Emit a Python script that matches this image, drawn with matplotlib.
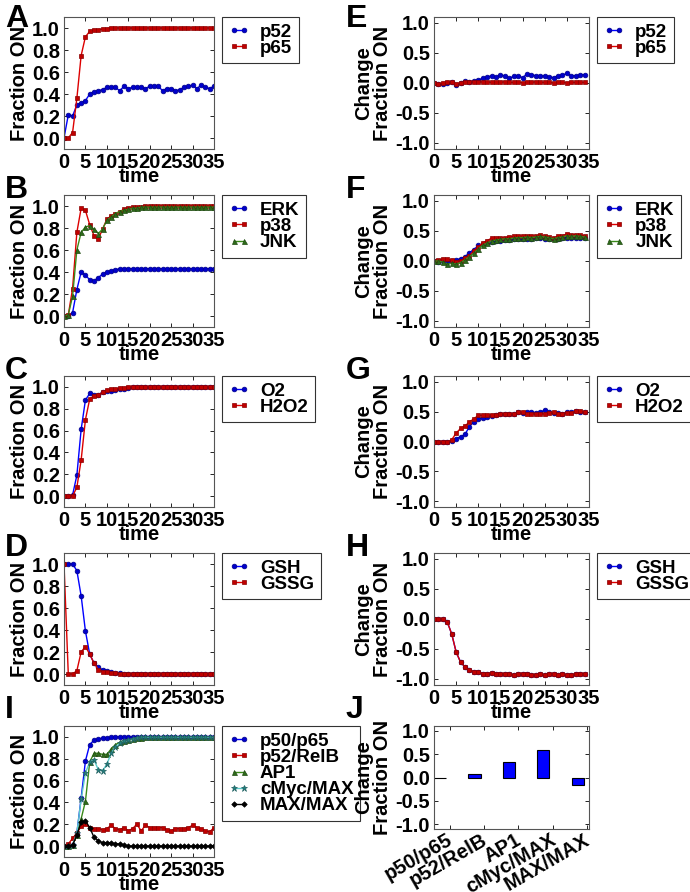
import matplotlib
matplotlib.use("Agg")
import matplotlib.pyplot as plt
import matplotlib.transforms as mtransforms
import numpy as np

plt.rcParams['font.family'] = ['Liberation Sans', 'DejaVu Sans']
plt.rcParams['font.weight'] = 'bold'
plt.rcParams['axes.unicode_minus'] = False

# ---------------- data ----------------
time_abs = list(range(36))
time_chg = list(range(35))

# Panel A
a_p52 = [0.0, 0.21, 0.20, 0.30, 0.32, 0.34, 0.40, 0.42, 0.43, 0.44, 0.46, 0.46, 0.46, 0.43, 0.47, 0.45,
         0.46, 0.46, 0.46, 0.45, 0.47, 0.47, 0.47, 0.43, 0.45, 0.45, 0.43, 0.44, 0.46, 0.47, 0.48, 0.45,
         0.48, 0.46, 0.45, 0.47]
a_p65 = [0.0, 0.0, 0.05, 0.36, 0.75, 0.92, 0.97, 0.98, 0.985, 0.99, 0.995, 1.0, 1.0, 1.0, 1.0, 1.0,
         1.0, 1.0, 1.0, 1.0, 1.0, 1.0, 1.0, 1.0, 1.0, 1.0, 1.0, 1.0, 1.0, 1.0, 1.0, 1.0, 1.0, 1.0, 1.0, 1.0]

# Panel B
b_erk = [0.0, 0.0, 0.03, 0.24, 0.40, 0.37, 0.33, 0.32, 0.35, 0.38, 0.40, 0.41, 0.42, 0.43, 0.43, 0.43,
         0.43, 0.43, 0.43, 0.43, 0.43, 0.43, 0.43, 0.43, 0.43, 0.43, 0.43, 0.43, 0.43, 0.43, 0.43, 0.43,
         0.43, 0.43, 0.43, 0.43]
b_p38 = [0.0, 0.01, 0.25, 0.76, 0.98, 0.96, 0.83, 0.73, 0.70, 0.79, 0.88, 0.91, 0.93, 0.95, 0.97, 0.98,
         0.99, 0.99, 0.995, 1.0, 1.0, 1.0, 1.0, 1.0, 1.0, 1.0, 1.0, 1.0, 1.0, 1.0, 1.0, 1.0, 1.0, 1.0, 1.0, 1.0]
b_jnk = [0.0, 0.01, 0.18, 0.60, 0.76, 0.81, 0.82, 0.79, 0.75, 0.79, 0.87, 0.90, 0.93, 0.95, 0.96, 0.97,
         0.98, 0.98, 0.99, 0.99, 0.99, 0.99, 0.99, 0.99, 0.99, 0.99, 0.99, 0.99, 0.99, 0.99, 0.99, 0.99,
         0.99, 0.99, 0.99, 0.99]

# Panel C
c_o2 = [0.0, 0.0, 0.01, 0.19, 0.61, 0.88, 0.94, 0.93, 0.93, 0.95, 0.96, 0.96, 0.97, 0.98, 0.98, 0.99,
        1.0, 1.0, 1.0, 1.0, 1.0, 1.0, 1.0, 1.0, 1.0, 1.0, 1.0, 1.0, 1.0, 1.0, 1.0, 1.0, 1.0, 1.0, 1.0, 1.0]
c_h2o2 = [0.0, 0.0, 0.0, 0.08, 0.33, 0.70, 0.89, 0.92, 0.93, 0.95, 0.97, 0.98, 0.98, 0.99, 0.99, 1.0,
          1.0, 1.0, 1.0, 1.0, 1.0, 1.0, 1.0, 1.0, 1.0, 1.0, 1.0, 1.0, 1.0, 1.0, 1.0, 1.0, 1.0, 1.0, 1.0, 1.0]

# Panel D
d_gsh = [1.0, 1.0, 1.0, 0.94, 0.71, 0.39, 0.18, 0.10, 0.06, 0.04, 0.03, 0.02, 0.01, 0.005, 0.0, 0.0,
         0.0, 0.0, 0.0, 0.0, 0.0, 0.0, 0.0, 0.0, 0.0, 0.0, 0.0, 0.0, 0.0, 0.0, 0.0, 0.0, 0.0, 0.0, 0.0, 0.0]
d_gssg = [1.0, 0.0, 0.0, 0.03, 0.20, 0.25, 0.18, 0.10, 0.04, 0.02, 0.02, 0.01, 0.01, 0.0, 0.0, 0.0,
          0.0, 0.0, 0.0, 0.0, 0.0, 0.0, 0.0, 0.0, 0.0, 0.0, 0.0, 0.0, 0.0, 0.0, 0.0, 0.0, 0.0, 0.0, 0.0, 0.0]

# Panel I
i_p50p65 = [0.0, 0.0, 0.01, 0.12, 0.44, 0.78, 0.93, 0.97, 0.98, 0.99, 0.99, 0.995, 1.0, 1.0, 1.0, 1.0,
            1.0, 1.0, 1.0, 1.0, 1.0, 1.0, 1.0, 1.0, 1.0, 1.0, 1.0, 1.0, 1.0, 1.0, 1.0, 1.0, 1.0, 1.0, 1.0, 1.0]
i_p52relb = [0.0, 0.02, 0.07, 0.12, 0.18, 0.20, 0.17, 0.16, 0.16, 0.15, 0.16, 0.19, 0.16, 0.15, 0.17, 0.14,
             0.16, 0.20, 0.14, 0.19, 0.17, 0.17, 0.17, 0.17, 0.15, 0.14, 0.16, 0.16, 0.16, 0.17, 0.19, 0.17,
             0.16, 0.14, 0.13, 0.17]
i_ap1 = [0.0, 0.0, 0.01, 0.10, 0.25, 0.41, 0.77, 0.85, 0.85, 0.84, 0.84, 0.89, 0.93, 0.95, 0.96, 0.97,
         0.98, 0.99, 0.99, 1.0, 1.0, 1.0, 1.0, 1.0, 1.0, 1.0, 1.0, 1.0, 1.0, 1.0, 1.0, 1.0, 1.0, 1.0, 1.0, 1.0]
i_cmyc = [0.0, 0.0, 0.01, 0.12, 0.43, 0.67, 0.77, 0.79, 0.70, 0.69, 0.75, 0.85, 0.91, 0.94, 0.96, 0.97,
          0.98, 0.99, 0.995, 0.995, 0.995, 0.995, 0.995, 0.995, 0.995, 0.995, 0.995, 0.995, 0.995, 0.995,
          0.995, 0.995, 0.995, 0.995, 0.995, 0.995]
i_maxmax = [0.0, 0.0, 0.01, 0.10, 0.22, 0.23, 0.17, 0.08, 0.05, 0.03, 0.03, 0.03, 0.02, 0.02, 0.01, 0.0,
            0.0, 0.0, 0.0, 0.0, 0.0, 0.0, 0.0, 0.0, 0.0, 0.0, 0.0, 0.0, 0.0, 0.0, 0.0, 0.0, 0.0, 0.0, 0.0, 0.0]

# Panel E (change)
e_p52 = [0.0, -0.02, -0.01, 0.0, 0.01, -0.03, 0.0, 0.03, 0.02, 0.03, 0.05, 0.08, 0.10, 0.12, 0.10, 0.13,
         0.12, 0.08, 0.11, 0.12, 0.09, 0.15, 0.14, 0.12, 0.11, 0.12, 0.10, 0.09, 0.12, 0.13, 0.16, 0.12,
         0.12, 0.13, 0.14]
e_p65 = [0.0, -0.02, 0.0, 0.02, 0.01, -0.01, 0.0, 0.01, 0.02, 0.02, 0.01, 0.02, 0.02, 0.01, 0.01, 0.01,
         0.02, 0.01, 0.01, 0.02, 0.0, 0.01, 0.01, 0.02, 0.01, 0.01, 0.01, 0.0, 0.01, 0.01, 0.0, 0.01,
         0.01, 0.01, 0.01]

# Panel F
f_erk = [0.0, -0.01, 0.0, -0.02, 0.0, 0.02, 0.04, 0.07, 0.14, 0.19, 0.26, 0.28, 0.30, 0.32, 0.33, 0.34,
         0.35, 0.35, 0.36, 0.37, 0.36, 0.37, 0.36, 0.38, 0.38, 0.37, 0.36, 0.36, 0.37, 0.38, 0.39, 0.39,
         0.38, 0.38, 0.38]
f_p38 = [0.0, 0.01, 0.04, 0.03, 0.01, -0.01, 0.0, 0.05, 0.09, 0.17, 0.24, 0.30, 0.34, 0.38, 0.39, 0.39,
         0.38, 0.40, 0.41, 0.42, 0.41, 0.42, 0.42, 0.41, 0.43, 0.41, 0.40, 0.38, 0.41, 0.42, 0.45, 0.43,
         0.44, 0.43, 0.42]
f_jnk = [0.0, 0.0, -0.02, -0.05, -0.04, -0.05, -0.03, 0.02, 0.07, 0.13, 0.20, 0.26, 0.30, 0.33, 0.35, 0.36,
         0.37, 0.37, 0.38, 0.39, 0.39, 0.40, 0.39, 0.40, 0.41, 0.40, 0.39, 0.37, 0.39, 0.40, 0.42, 0.41,
         0.42, 0.41, 0.40]

# Panel G
g_o2 = [0.0, 0.0, 0.0, 0.0, 0.01, 0.05, 0.08, 0.12, 0.25, 0.33, 0.38, 0.40, 0.41, 0.43, 0.44, 0.46,
        0.46, 0.46, 0.47, 0.49, 0.48, 0.49, 0.50, 0.48, 0.49, 0.53, 0.49, 0.48, 0.48, 0.47, 0.49, 0.50,
        0.52, 0.49, 0.50]
g_h2o2 = [0.0, 0.0, 0.0, -0.01, 0.03, 0.14, 0.22, 0.26, 0.33, 0.38, 0.44, 0.44, 0.44, 0.45, 0.45, 0.46,
          0.47, 0.47, 0.46, 0.50, 0.49, 0.47, 0.47, 0.46, 0.47, 0.46, 0.48, 0.49, 0.47, 0.47, 0.48, 0.48,
          0.52, 0.51, 0.50]

# Panel H
h_gsh = [0.0, 0.0, 0.0, -0.05, -0.25, -0.55, -0.72, -0.80, -0.85, -0.88, -0.88, -0.91, -0.91, -0.90, -0.91,
         -0.92, -0.91, -0.92, -0.94, -0.91, -0.91, -0.92, -0.93, -0.93, -0.92, -0.93, -0.92, -0.92, -0.93,
         -0.92, -0.93, -0.93, -0.92, -0.92, -0.92]
h_gssg = [0.0, 0.0, 0.0, -0.05, -0.25, -0.55, -0.72, -0.80, -0.85, -0.88, -0.88, -0.91, -0.91, -0.90, -0.91,
          -0.92, -0.91, -0.92, -0.94, -0.91, -0.91, -0.92, -0.93, -0.93, -0.92, -0.93, -0.92, -0.92, -0.93,
          -0.92, -0.93, -0.93, -0.92, -0.92, -0.92]

# Panel J
j_categories = ['p50/p65', 'p52/RelB', 'AP1', 'cMyc/MAX', 'MAX/MAX']
j_values = [0.0, 0.08, 0.33, 0.59, -0.16]

# ---------------- figure ----------------
W, H = 690, 892
fig = plt.figure(figsize=(W / 100, H / 100), dpi=100)


def px_axes(x0, y0, x1, y1):
    return fig.add_axes([x0 / W, 1 - y1 / H, (x1 - x0) / W, (y1 - y0) / H])


FS = 14.5
LFS = 13.5

styles = {
    'b': dict(color='#0000ff', marker='o', mfc='#0000cc', mec='#00008b'),
    'r': dict(color='#dd0000', marker='s', mfc='#c00000', mec='#8b0000'),
    'g': dict(color='#3a8a1a', marker='^', mfc='#2e6b1a', mec='#1e4a10'),
    'c': dict(color='#5cc8c8', marker='*', mfc='#208080', mec='#206060'),
    'k': dict(color='#000000', marker='D', mfc='#000000', mec='#000000'),
}
msize = {'o': 3.4, 's': 3.4, '^': 3.6, '*': 5.0, 'D': 2.8}


def style_axes(ax):
    ax.tick_params(direction='in', top=True, right=True, labelsize=FS, length=3, width=0.6, pad=3)
    for lbl in ax.get_xticklabels() + ax.get_yticklabels():
        lbl.set_fontweight('bold')
    for s in ax.spines.values():
        s.set_linewidth(0.8)
        s.set_color('#555555')


def line_panel(ax, t, series, labels, keys, ylim, yticks, ylabel):
    for y, lab, k in zip(series, labels, keys):
        st = styles[k]
        ax.plot(t, y, '-', color=st['color'], lw=1.0, marker=st['marker'],
                ms=msize[st['marker']], mfc=st['mfc'], mec=st['mec'], mew=0.5, label=lab)
    ax.set_xlim(0, 35)
    ax.set_xticks(range(0, 36, 5))
    ax.set_ylim(*ylim)
    ax.set_yticks(yticks)
    ax.set_yticklabels(['%.1f' % v for v in yticks])
    ax.set_xlabel('time', fontsize=FS, fontweight='bold', labelpad=-3.5)
    ax.set_ylabel(ylabel, fontsize=FS, fontweight='bold', labelpad=2, linespacing=1.0)
    style_axes(ax)
    leg = ax.legend(loc='upper left', bbox_to_anchor=(1.05, 1.0), numpoints=2, fancybox=False,
                    prop={'size': LFS, 'weight': 'bold'}, handlelength=1.15, handletextpad=0.55,
                    labelspacing=-0.05, borderpad=0.35, borderaxespad=0.0)
    leg.get_frame().set_edgecolor('black')
    leg.get_frame().set_linewidth(0.8)


left_x = (64, 214)
right_x = (434, 589)
rows = [(17, 149), (195, 327), (376, 507), (553, 685), (726, 857)]

abs_ticks = [0.0, 0.2, 0.4, 0.6, 0.8, 1.0]
chg_ticks = [-1.0, -0.5, 0.0, 0.5, 1.0]

axA = px_axes(left_x[0], rows[0][0], left_x[1], rows[0][1])
line_panel(axA, time_abs, [a_p52, a_p65], ['p52', 'p65'], ['b', 'r'], (-0.1, 1.1), abs_ticks, 'Fraction ON')
axB = px_axes(left_x[0], rows[1][0], left_x[1], rows[1][1])
line_panel(axB, time_abs, [b_erk, b_p38, b_jnk], ['ERK', 'p38', 'JNK'], ['b', 'r', 'g'], (-0.1, 1.1), abs_ticks, 'Fraction ON')
axC = px_axes(left_x[0], rows[2][0], left_x[1], rows[2][1])
line_panel(axC, time_abs, [c_o2, c_h2o2], ['O2', 'H2O2'], ['b', 'r'], (-0.1, 1.1), abs_ticks, 'Fraction ON')
axD = px_axes(left_x[0], rows[3][0], left_x[1], rows[3][1])
line_panel(axD, time_abs, [d_gsh, d_gssg], ['GSH', 'GSSG'], ['b', 'r'], (-0.1, 1.1), abs_ticks, 'Fraction ON')
axI = px_axes(left_x[0], rows[4][0], left_x[1], rows[4][1])
line_panel(axI, time_abs, [i_p50p65, i_p52relb, i_ap1, i_cmyc, i_maxmax],
           ['p50/p65', 'p52/RelB', 'AP1', 'cMyc/MAX', 'MAX/MAX'], ['b', 'r', 'g', 'c', 'k'],
           (-0.1, 1.1), abs_ticks, 'Fraction ON')

chg_label = 'Change\nFraction ON'
axE = px_axes(right_x[0], rows[0][0], right_x[1], rows[0][1])
line_panel(axE, time_chg, [e_p52, e_p65], ['p52', 'p65'], ['b', 'r'], (-1.1, 1.1), chg_ticks, chg_label)
axF = px_axes(right_x[0], rows[1][0], right_x[1], rows[1][1])
line_panel(axF, time_chg, [f_erk, f_p38, f_jnk], ['ERK', 'p38', 'JNK'], ['b', 'r', 'g'], (-1.1, 1.1), chg_ticks, chg_label)
axG = px_axes(right_x[0], rows[2][0], right_x[1], rows[2][1])
line_panel(axG, time_chg, [g_o2, g_h2o2], ['O2', 'H2O2'], ['b', 'r'], (-1.1, 1.1), chg_ticks, chg_label)
axH = px_axes(right_x[0], rows[3][0], right_x[1], rows[3][1])
line_panel(axH, time_chg, [h_gsh, h_gssg], ['GSH', 'GSSG'], ['b', 'r'], (-1.1, 1.1), chg_ticks, chg_label)

# Panel J: bar chart
axJ = px_axes(right_x[0], 726, right_x[1], 829)
xpos = np.arange(len(j_values))
axJ.bar(xpos, j_values, width=0.35, align='edge', color='#0000ff', edgecolor='black', linewidth=0.8)
axJ.set_xlim(0, 4.5)
axJ.set_ylim(-1.1, 1.1)
axJ.set_yticks(chg_ticks)
axJ.set_yticklabels(['%.1f' % v for v in chg_ticks])
axJ.set_xticks(xpos + 0.45)
axJ.set_xticklabels(j_categories, rotation=30, ha='right', fontsize=FS, fontweight='bold')
axJ.set_ylabel(chg_label, fontsize=FS, fontweight='bold', labelpad=2, linespacing=1.0)
style_axes(axJ)
axJ.tick_params(axis='x', pad=1)
offset = mtransforms.ScaledTranslation(6 / 100, 0, fig.dpi_scale_trans)
for lbl in axJ.get_xticklabels():
    lbl.set_transform(lbl.get_transform() + offset)

# Panel letters
letters = [('A', 5, 4), ('B', 5, 175), ('C', 5, 356), ('D', 5, 533), ('I', 5, 695),
           ('E', 346, 4), ('F', 346, 175), ('G', 346, 356), ('H', 346, 533), ('J', 346, 695)]
for txt, x, y in letters:
    fig.text(x / W, 1 - y / H, txt, fontsize=23, fontweight='bold', ha='left', va='top')

fig.savefig('out.png', dpi=100)
